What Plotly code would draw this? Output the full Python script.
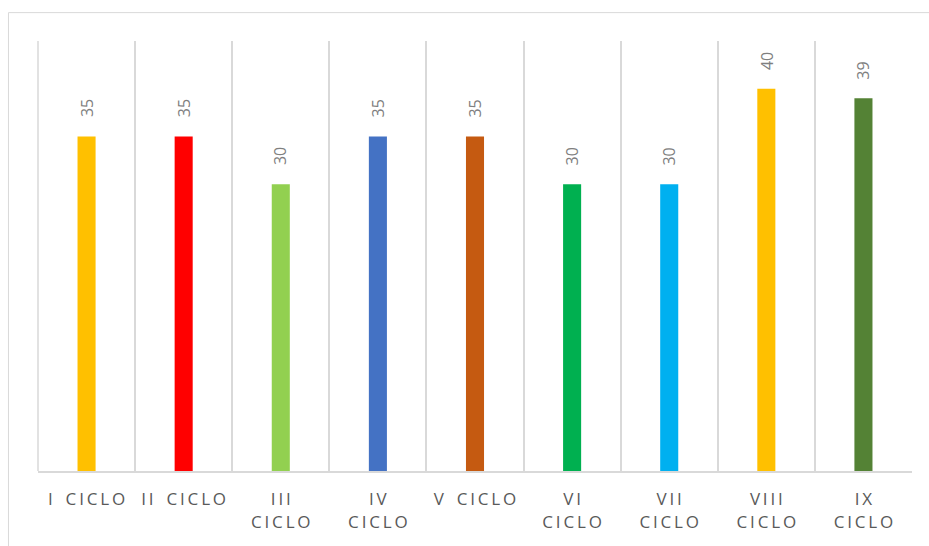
import plotly.graph_objects as go

categories = ["I CICLO", "II CICLO", "III CICLO", "IV CICLO", "V CICLO",
              "VI CICLO", "VII CICLO", "VIII CICLO", "IX CICLO"]
values = [35, 35, 30, 35, 35, 30, 30, 40, 39]
colors = ["#FFC000", "#FF0000", "#92D050", "#4472C4", "#C55A11",
          "#00B050", "#00B0F0", "#FFC000", "#548235"]
# how each label wraps in the reference (True = two lines)
wrapped = [False, False, True, True, False, True, True, True, True]

THIN = "\u2009"
NB = "\u00a0"


def spaced(word):
    return THIN.join(word)


def tick_text(name, wrap):
    parts = name.split(" ")
    words = [spaced(p) for p in parts]
    if wrap:
        return words[0] + "<br>" + words[1]
    return (NB + THIN * 3).join(words)


ticktext = [tick_text(c, w) for c, w in zip(categories, wrapped)]

fig = go.Figure()
fig.add_trace(go.Bar(
    x=categories, y=values, marker=dict(color=colors, line=dict(width=0)),
    width=0.186, hoverinfo="skip",
))

for c, v in zip(categories, values):
    fig.add_annotation(
        x=c, y=v, text=str(v), showarrow=False, textangle=-90,
        xanchor="center", yanchor="middle", yshift=28,
        font=dict(family="Open Sans", size=16, color="#7f7f7f"),
    )

# outer chart border (extends past the bottom/right of the view)
fig.add_shape(type="rect", xref="paper", yref="paper",
              x0=-0.0338, x1=1.2, y0=-0.4, y1=1.066,
              line=dict(color="#d9d9d9", width=1), layer="below")
# left-edge gridline
fig.add_shape(type="line", xref="paper", yref="paper",
              x0=0, x1=0, y0=0, y1=1,
              line=dict(color="#d9d9d9", width=1.5), layer="below")

fig.update_layout(
    width=929, height=546,
    margin=dict(l=38, r=17, t=41, b=75),
    paper_bgcolor="white", plot_bgcolor="white",
    showlegend=False,
    xaxis=dict(
        type="category", tickmode="array", tickvals=categories, ticktext=ticktext,
        tickson="boundaries", showgrid=True, gridcolor="#d9d9d9", gridwidth=1.5,
        showline=True, linecolor="#d9d9d9", linewidth=2, ticks="",
        tickfont=dict(family="Open Sans", size=17, color="#595959"),
        ticklabelstandoff=12,
        range=[-0.5, 8.5], fixedrange=True,
    ),
    yaxis=dict(range=[0, 45], visible=False, showgrid=False, zeroline=False),
)

fig.write_html("out.html")
